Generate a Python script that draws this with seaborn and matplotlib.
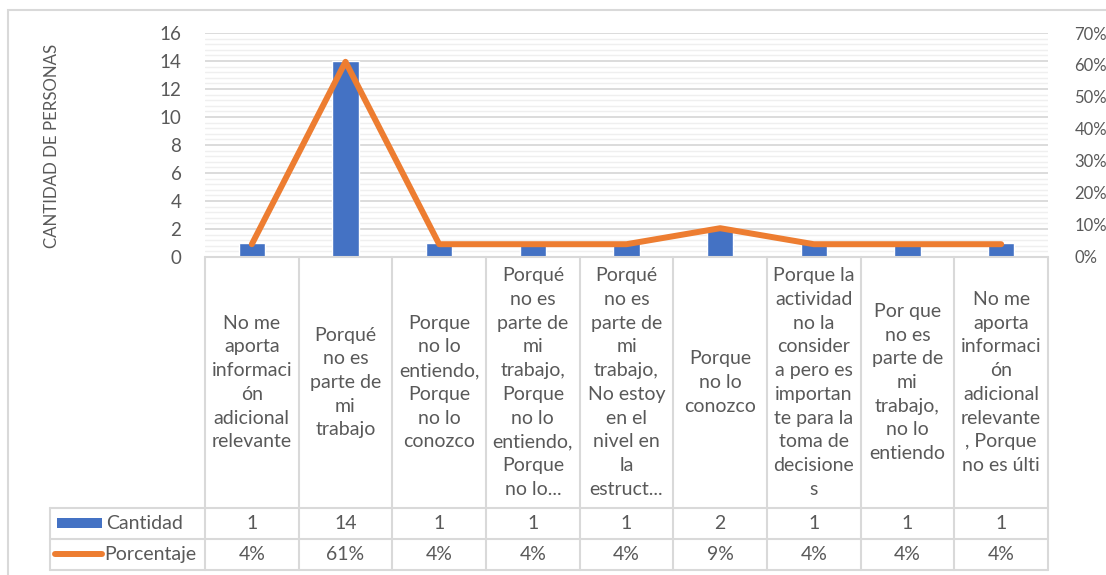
import matplotlib
matplotlib.use("Agg")
import matplotlib.pyplot as plt
import seaborn as sns
import pandas as pd
import numpy as np
from matplotlib.lines import Line2D
from matplotlib.patches import Rectangle
from matplotlib.ticker import MultipleLocator, PercentFormatter

# Motivos (texto tal como aparece en cada celda de la tabla)
etiquetas = [
    "No me\naporta\ninformaci\nón\nadicional\nrelevante",
    "Porqué\nno es\nparte de\nmi\ntrabajo",
    "Porque\nno lo\nentiendo,\nPorque\nno lo\nconozco",
    "Porqué\nno es\nparte de\nmi\ntrabajo,\nPorque\nno lo\nentiendo,\nPorque\nno lo...",
    "Porqué\nno es\nparte de\nmi\ntrabajo,\nNo estoy\nen el\nnivel en\nla\nestruct...",
    "Porque\nno lo\nconozco",
    "Porque la\nactividad\nno la\nconsider\na pero es\nimportan\nte para la\ntoma de\ndecisione\ns",
    "Por que\nno es\nparte de\nmi\ntrabajo,\nno lo\nentiendo",
    "No me\naporta\ninformaci\nón\nadicional\nrelevante\n, Porque\nno es últi",
]
cantidad = [1, 14, 1, 1, 1, 2, 1, 1, 1]
porcentaje = [0.04, 0.61, 0.04, 0.04, 0.04, 0.09, 0.04, 0.04, 0.04]
serie_barras = "Cantidad"
serie_linea = "Porcentaje"
titulo_eje = "CANTIDAD DE PERSONAS"

AZUL = "#4472C4"
NARANJA = "#ED7D31"
GRIS_TEXTO = "#595959"
GRIS_LINEA = "#D9D9D9"
FS = 14

sns.set_theme(style="white")
plt.rcParams["font.family"] = ["Lato", "DejaVu Sans"]

W, H = 1106, 575
fig = plt.figure(figsize=(W / 100, H / 100), dpi=100)

def fx(px):
    return px / W

def fy(py):
    return 1 - py / H

# Área de trazado
left, right, top, bottom = 205, 1048, 33, 257
ax = fig.add_axes([fx(left), fy(bottom), fx(right) - fx(left), fy(top) - fy(bottom)])

df = pd.DataFrame({"pos": np.arange(len(cantidad)), "cantidad": cantidad, "porcentaje": porcentaje})

sns.barplot(data=df, x="pos", y="cantidad", color=AZUL, saturation=1, width=0.28, ax=ax)
ax.set_xlim(-0.5, len(cantidad) - 0.5)
ax.set_ylim(0, 16)
ax.yaxis.set_major_locator(MultipleLocator(2))
ax.yaxis.set_minor_locator(MultipleLocator(0.4))
ax.grid(which="major", axis="y", color=GRIS_LINEA, lw=1.3)
ax.grid(which="minor", axis="y", color="#EFEFEF", lw=1.0)
ax.set_axisbelow(True)
for s in ax.spines.values():
    s.set_visible(False)
ax.set_xticks([])
ax.set_xlabel("")
ax.set_ylabel("")
ax.tick_params(axis="y", which="both", length=0, pad=17, labelsize=13.5, labelcolor=GRIS_TEXTO)

ax2 = ax.twinx()
sns.lineplot(data=df, x="pos", y="porcentaje", color=NARANJA, lw=4.3, ax=ax2,
             legend=False, solid_capstyle="round", solid_joinstyle="round")
ax2.set_xlim(-0.5, len(cantidad) - 0.5)
ax2.set_ylim(0, 0.7)
ax2.yaxis.set_major_locator(MultipleLocator(0.1))
ax2.yaxis.set_major_formatter(PercentFormatter(1, decimals=0))
for s in ax2.spines.values():
    s.set_visible(False)
ax2.set_ylabel("")
ax2.set_xlabel("")
ax2.tick_params(axis="y", length=0, pad=19, labelsize=12, labelcolor=GRIS_TEXTO)

fig.text(fx(52), fy(146), titulo_eje, rotation=90, ha="center", va="center",
         fontsize=12.2, color=GRIS_TEXTO)

# Tabla de datos bajo el eje
n = len(cantidad)
col_w = (right - left) / n
row1, row2, row3 = 508, 539, 570
leg_left = 50

def linea(x0, y0, x1, y1):
    fig.add_artist(Line2D([fx(x0), fx(x1)], [fy(y0), fy(y1)], transform=fig.transFigure,
                          color=GRIS_LINEA, lw=1.5))

linea(left, bottom, right, bottom)
for i in range(n + 1):
    xb = left + i * col_w
    linea(xb, bottom, xb, row3)
for yr in (row1, row2, row3):
    linea(leg_left, yr, right, yr)
linea(leg_left, row1, leg_left, row3)

for i in range(n):
    xc = left + (i + 0.5) * col_w
    fig.text(fx(xc), fy((bottom + row1) / 2), etiquetas[i], ha="center", va="center",
             multialignment="center", fontsize=FS, color=GRIS_TEXTO, linespacing=1.48)
    fig.text(fx(xc), fy((row1 + row2) / 2), f"{cantidad[i]}", ha="center", va="center",
             fontsize=FS, color=GRIS_TEXTO)
    fig.text(fx(xc), fy((row2 + row3) / 2), f"{porcentaje[i]:.0%}", ha="center", va="center",
             fontsize=FS, color=GRIS_TEXTO)

# Claves de la leyenda en la tabla
fig.add_artist(Rectangle((fx(57), fy(528)), fx(102) - fx(57), fy(518) - fy(528),
                         transform=fig.transFigure, color=AZUL, lw=0))
fig.add_artist(Line2D([fx(55), fx(102)], [fy(554), fy(554)], transform=fig.transFigure,
                      color=NARANJA, lw=4.3, solid_capstyle="round"))
fig.text(fx(106), fy((row1 + row2) / 2), serie_barras, ha="left", va="center",
         fontsize=FS, color=GRIS_TEXTO)
fig.text(fx(104), fy((row2 + row3) / 2), serie_linea, ha="left", va="center",
         fontsize=FS, color=GRIS_TEXTO)

# Marco exterior
fig.add_artist(Rectangle((fx(8), fy(H + 20)), fx(W + 20) - fx(8), fy(10) - fy(H + 20),
                         transform=fig.transFigure, fill=False, edgecolor=GRIS_LINEA, lw=1.5))

fig.savefig("out.png", dpi=100)
